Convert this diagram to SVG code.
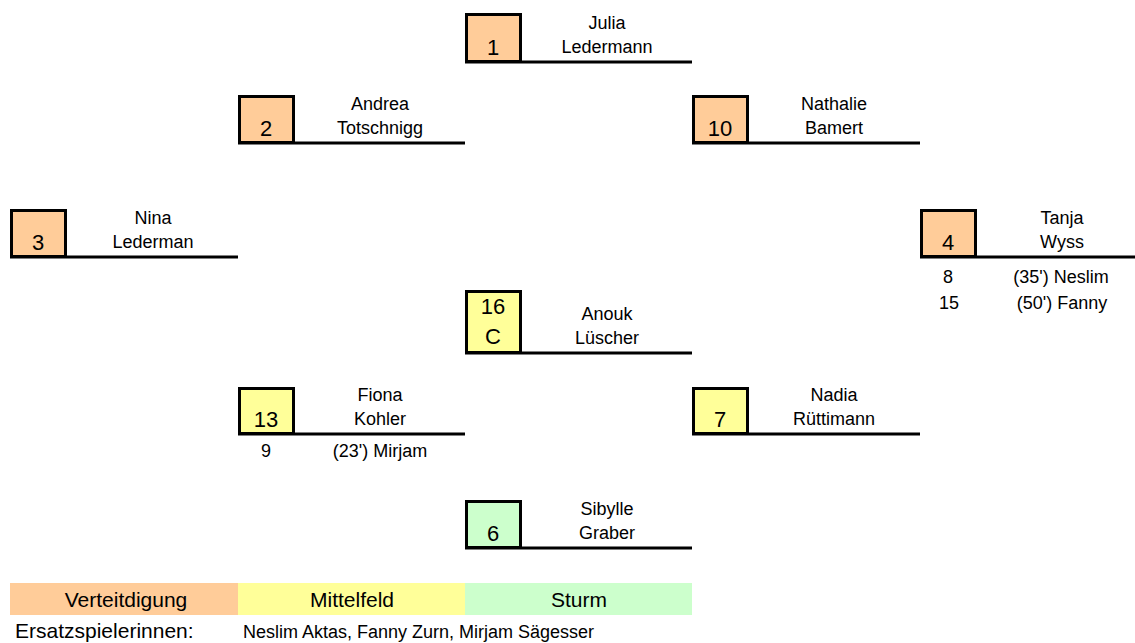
<svg xmlns="http://www.w3.org/2000/svg" width="1135" height="643" viewBox="0 0 1135 643">
<style>
text{font-family:"Liberation Sans",Arial,sans-serif;fill:#000}
.num{font-size:22px;text-anchor:middle}
.nm{font-size:18px;text-anchor:middle}
.sub{font-size:18px;text-anchor:middle}
.leg{font-size:21px;text-anchor:middle}
.box{stroke:#000;stroke-width:3}
.d{fill:#FFCC99}.m{fill:#FFFF99}.s{fill:#CCFFCC}
.ln{stroke:#000;stroke-width:3}
</style>
<rect width="1135" height="643" fill="#fff"/>
<g id="connectors"></g>
<g id="n1"><rect class="box d" x="466.5" y="14.5" width="54" height="47"/><line class="ln" x1="465" y1="62" x2="692" y2="62"/><text class="num" x="493" y="55">1</text><text class="nm" x="607" y="29">Julia</text><text class="nm" x="607" y="53">Ledermann</text></g>
<g id="n2"><rect class="box d" x="239.5" y="96.5" width="54" height="46"/><line class="ln" x1="238" y1="143" x2="465" y2="143"/><text class="num" x="266" y="136">2</text><text class="nm" x="380" y="110">Andrea</text><text class="nm" x="380" y="134">Totschnigg</text></g>
<g id="n10"><rect class="box d" x="693.5" y="96.5" width="54" height="46"/><line class="ln" x1="692" y1="143" x2="920" y2="143"/><text class="num" x="720" y="136">10</text><text class="nm" x="834" y="110">Nathalie</text><text class="nm" x="834" y="134">Bamert</text></g>
<g id="n3"><rect class="box d" x="11.5" y="210.5" width="54" height="46"/><line class="ln" x1="10" y1="257" x2="238" y2="257"/><text class="num" x="38" y="250">3</text><text class="nm" x="153" y="224">Nina</text><text class="nm" x="153" y="248">Lederman</text></g>
<g id="n4"><rect class="box d" x="921.5" y="210.5" width="54" height="46"/><line class="ln" x1="920" y1="257" x2="1135" y2="257"/><text class="num" x="948" y="250">4</text><text class="nm" x="1062" y="224">Tanja</text><text class="nm" x="1062" y="248">Wyss</text><text class="sub" x="948" y="283">8</text><text class="sub" x="1061" y="283">(35') Neslim</text><text class="sub" x="949" y="309">15</text><text class="sub" x="1062" y="309">(50') Fanny</text></g>
<g id="n16"><rect class="box m" x="466.5" y="291.5" width="54" height="61"/><line class="ln" x1="465" y1="353" x2="692" y2="353"/><text class="num" x="493" y="314">16</text><text class="num" x="493" y="344">C</text><text class="nm" x="607" y="320">Anouk</text><text class="nm" x="607" y="344">Lüscher</text></g>
<g id="n13"><rect class="box m" x="239.5" y="388.5" width="54" height="45"/><line class="ln" x1="238" y1="434" x2="465" y2="434"/><text class="num" x="266" y="427">13</text><text class="nm" x="380" y="401">Fiona</text><text class="nm" x="380" y="425">Kohler</text><text class="sub" x="266" y="457">9</text><text class="sub" x="380" y="457">(23') Mirjam</text></g>
<g id="n7"><rect class="box m" x="693.5" y="388.5" width="54" height="45"/><line class="ln" x1="692" y1="434" x2="920" y2="434"/><text class="num" x="720" y="427">7</text><text class="nm" x="834" y="401">Nadia</text><text class="nm" x="834" y="425">Rüttimann</text></g>
<g id="n6"><rect class="box s" x="466.5" y="501.5" width="54" height="46"/><line class="ln" x1="465" y1="548" x2="692" y2="548"/><text class="num" x="493" y="541">6</text><text class="nm" x="607" y="515">Sibylle</text><text class="nm" x="607" y="539">Graber</text></g>
<g id="legend"><rect class="d" x="10" y="583" width="228" height="32"/><rect class="m" x="238" y="583" width="227" height="32"/><rect class="s" x="465" y="583" width="227" height="32"/><text class="leg" x="126" y="607">Verteitdigung</text><text class="leg" x="352" y="607">Mittelfeld</text><text class="leg" x="579" y="607">Sturm</text></g>
<g id="subs"><text x="15" y="638" style="font-size:21px">Ersatzspielerinnen:</text><text x="243" y="638" style="font-size:18px">Neslim Aktas, Fanny Zurn, Mirjam Sägesser</text></g>
</svg>
